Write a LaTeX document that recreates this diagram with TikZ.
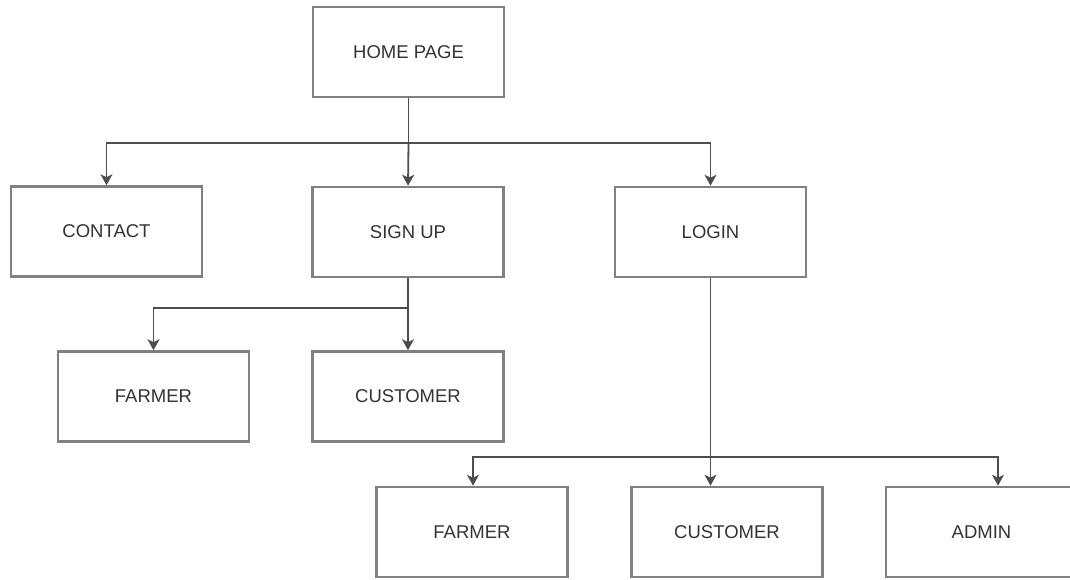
\documentclass[tikz,border=0pt]{standalone}
\usepackage{fontspec}
\setmainfont{Liberation Sans}
\usetikzlibrary{arrows.meta}
\definecolor{boxgray}{HTML}{808080}
\definecolor{txtgray}{HTML}{333333}
\definecolor{linegray}{HTML}{4D4D4D}
\begin{document}
\begin{tikzpicture}[x=1pt,y=-1pt,
  box/.style={draw=boxgray,line width=2.6pt,fill=white,minimum width=191pt,minimum height=90pt,
    inner sep=0pt,text=txtgray,font=\fontsize{18.5}{22}\selectfont},
  conn/.style={draw=linegray,line width=1.8pt},
  arr/.style={conn,-{Stealth[width=12pt,length=11pt,inset=3pt]}}]
\clip (0,0) rectangle (1070,579);
\fill[white] (0,0) rectangle (1070,579);

\node[box] (home) at (408.5,52) {HOME PAGE};
\node[box] (contact) at (106.5,231.5) {CONTACT};
\node[box] (signup) at (408,232) {SIGN UP};
\node[box] (login) at (710.5,232) {LOGIN};
\node[box] (farmerA) at (153.5,396.5) {FARMER};
\node[box] (customerA) at (408,396.5) {CUSTOMER};
\node[box] (farmerB) at (472,532) {FARMER};
\node[box] (customerB) at (727,532) {CUSTOMER};
\node[box] (admin) at (981.5,532) {ADMIN};

% home page connectors
\coordinate (j1) at ([yshift=-45pt]home.south);
\draw[conn] (home.south) -- (j1);
\draw[arr] (j1) -| (contact.north);
\draw[arr] (j1) -| (login.north);
\draw[arr] (j1) -- (signup.north);

% sign up connectors
\coordinate (j2) at ([yshift=-30pt]signup.south);
\draw[conn] (signup.south) -- (j2);
\draw[arr] (j2) -| (farmerA.north);
\draw[arr] (j2) -- (j2 |- customerA.north);

% login connectors
\coordinate (j3) at ([yshift=-179pt]login.south);
\draw[conn] (login.south) -- (j3);
\draw[arr] (j3) -| ([xshift=1pt]farmerB.north);
\draw[arr] (j3) -| ([xshift=16.5pt]admin.north);
\draw[arr] (j3) -- (j3 |- customerB.north);
\end{tikzpicture}
\end{document}
